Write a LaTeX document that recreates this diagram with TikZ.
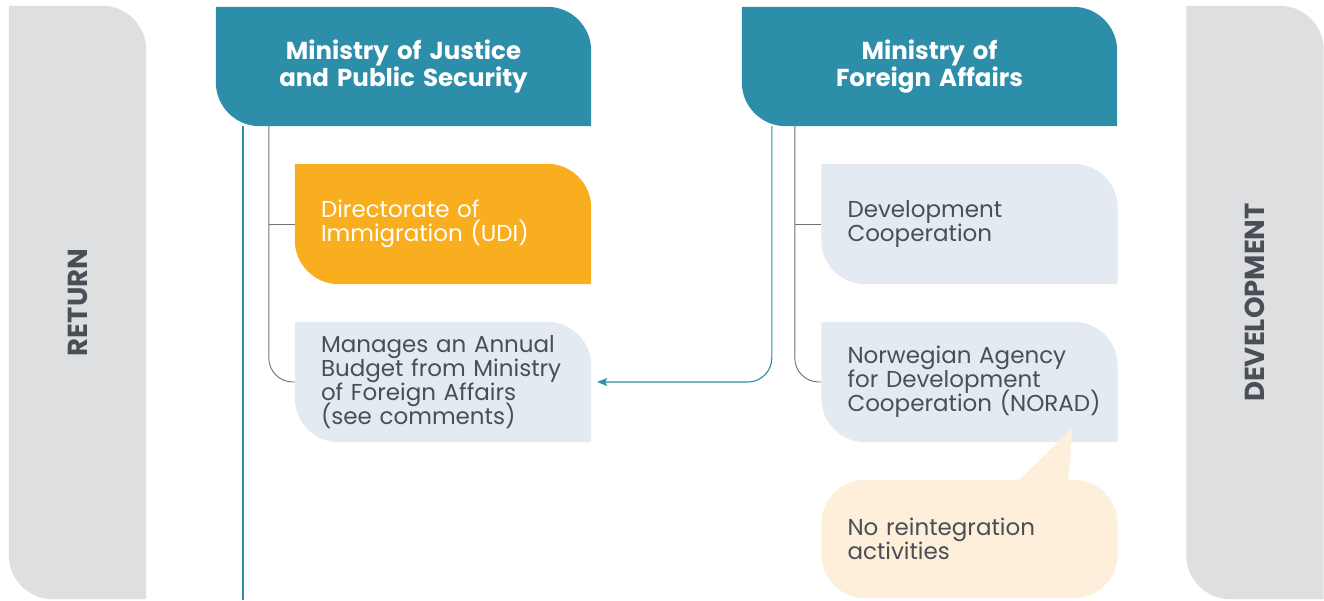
\documentclass[tikz,border=0pt]{standalone}
\usepackage{fontspec}
\setmainfont{Poppins}
\usepackage{xcolor}
\usepackage{tikz}
\usetikzlibrary{arrows.meta,positioning,calc,backgrounds}

\definecolor{govteal}{HTML}{2C8EA8}
\definecolor{udiorange}{HTML}{F9AE20}
\definecolor{unitblue}{HTML}{E4EAF1}
\definecolor{notecream}{HTML}{FEEFDB}
\definecolor{bargray}{HTML}{DEDFE1}
\definecolor{textgray}{HTML}{4A4E57}
\definecolor{linegray}{HTML}{707075}

\newcommand\leafr{44pt}
% fill behind a node: top right and bottom left corners rounded
\newcommand\leafbox[2]{%
  \fill[#2] (#1.north west) -- ([xshift=-\leafr]#1.north east)
    arc[start angle=90,end angle=0,radius=\leafr] -- (#1.south east)
    -- ([xshift=\leafr]#1.south west)
    arc[start angle=270,end angle=180,radius=\leafr] -- cycle;}

\begin{document}
\begin{tikzpicture}[x=1pt,y=-1pt,
  ministry/.style={text width=350pt,minimum width=375pt,minimum height=119pt,inner sep=0pt,
    align=center,text=white,font=\bfseries\fontsize{24.5}{26}\selectfont},
  unit/.style={text width=244pt,inner xsep=26pt,minimum width=296pt,minimum height=120pt,
    align=left,text=textgray,font=\fontsize{23}{24}\selectfont,
    execute at begin node={\lineskiplimit=-20pt\lineskip=0pt\hyphenpenalty=10000}},
  sidebar/.style={minimum width=137pt,minimum height=593pt,inner sep=0pt,
    text=textgray,font=\bfseries\fontsize{27.5}{28}\selectfont},
  link/.style={draw=linegray,line width=0.9pt},
  flow/.style={draw=govteal,line width=1.1pt}]
\useasboundingbox (0,0) rectangle (1324,600);

% Side bars
\node[sidebar] (ret) at (77.5,302.5) {\rotatebox{90}{RETURN}};
\node[sidebar] (dev) at (1255,302.5) {\rotatebox{90}{DEVELOPMENT}};

% Ministries
\node[ministry] (mj) at (403.5,66.5) {Ministry of Justice\\and Public Security};
\node[ministry] (mfa) at (929.5,66.5) {Ministry of\\Foreign Affairs};

% Units below them
\node[unit,text=white] (udi) at (443,224) {Directorate of\\Immigration (UDI)};
\node[unit] (budget) at (443,382) {Manages an Annual\\\mbox{Budget from Ministry}\\of Foreign Affairs\\(see comments)};
\node[unit] (devco) at (969.5,224) {Development\\Cooperation};
\node[unit] (norad) at (969.5,382) {Norwegian Agency\\for Development\\\mbox{Cooperation (NORAD)}};
\node[unit,minimum height=118pt] (note) at (969.5,539) {No reintegration\\activities};

\coordinate (mjfoot) at (243,600);

\begin{pgfonlayer}{background}
\leafbox{ret}{bargray}
\leafbox{dev}{bargray}
\leafbox{mj}{govteal}
\leafbox{mfa}{govteal}
\leafbox{udi}{udiorange}
\leafbox{budget}{unitblue}
\leafbox{devco}{unitblue}
\leafbox{norad}{unitblue}
\fill[notecream,rounded corners=\leafr] (note.north west) rectangle (note.south east);
% Speech tail
\fill[notecream] ([xshift=198pt]note.north west) -- ($(norad.south west)+(251,-14)$)
  -- ([xshift=247pt]note.north west) -- cycle;
\end{pgfonlayer}

% Tree lines
\draw[link,rounded corners=24pt] ([xshift=53pt]mj.south west) coordinate (mjstem) |- (budget.west);
\draw[link] (udi.west) -- (udi.west -| mjstem);
\draw[link,rounded corners=24pt] ([xshift=53pt]mfa.south west) coordinate (mfastem) |- (norad.west);
\draw[link] (devco.west) -- (devco.west -| mfastem);

% Budget flow and trunk
\draw[flow] (mjfoot |- mj.south) -- (mjfoot);
\draw[flow,-{Stealth[length=10pt,width=8pt,inset=2pt]},rounded corners=24pt]
  ([xshift=30pt]mfa.south west) |- ([xshift=6pt]budget.east);
\end{tikzpicture}
\end{document}
